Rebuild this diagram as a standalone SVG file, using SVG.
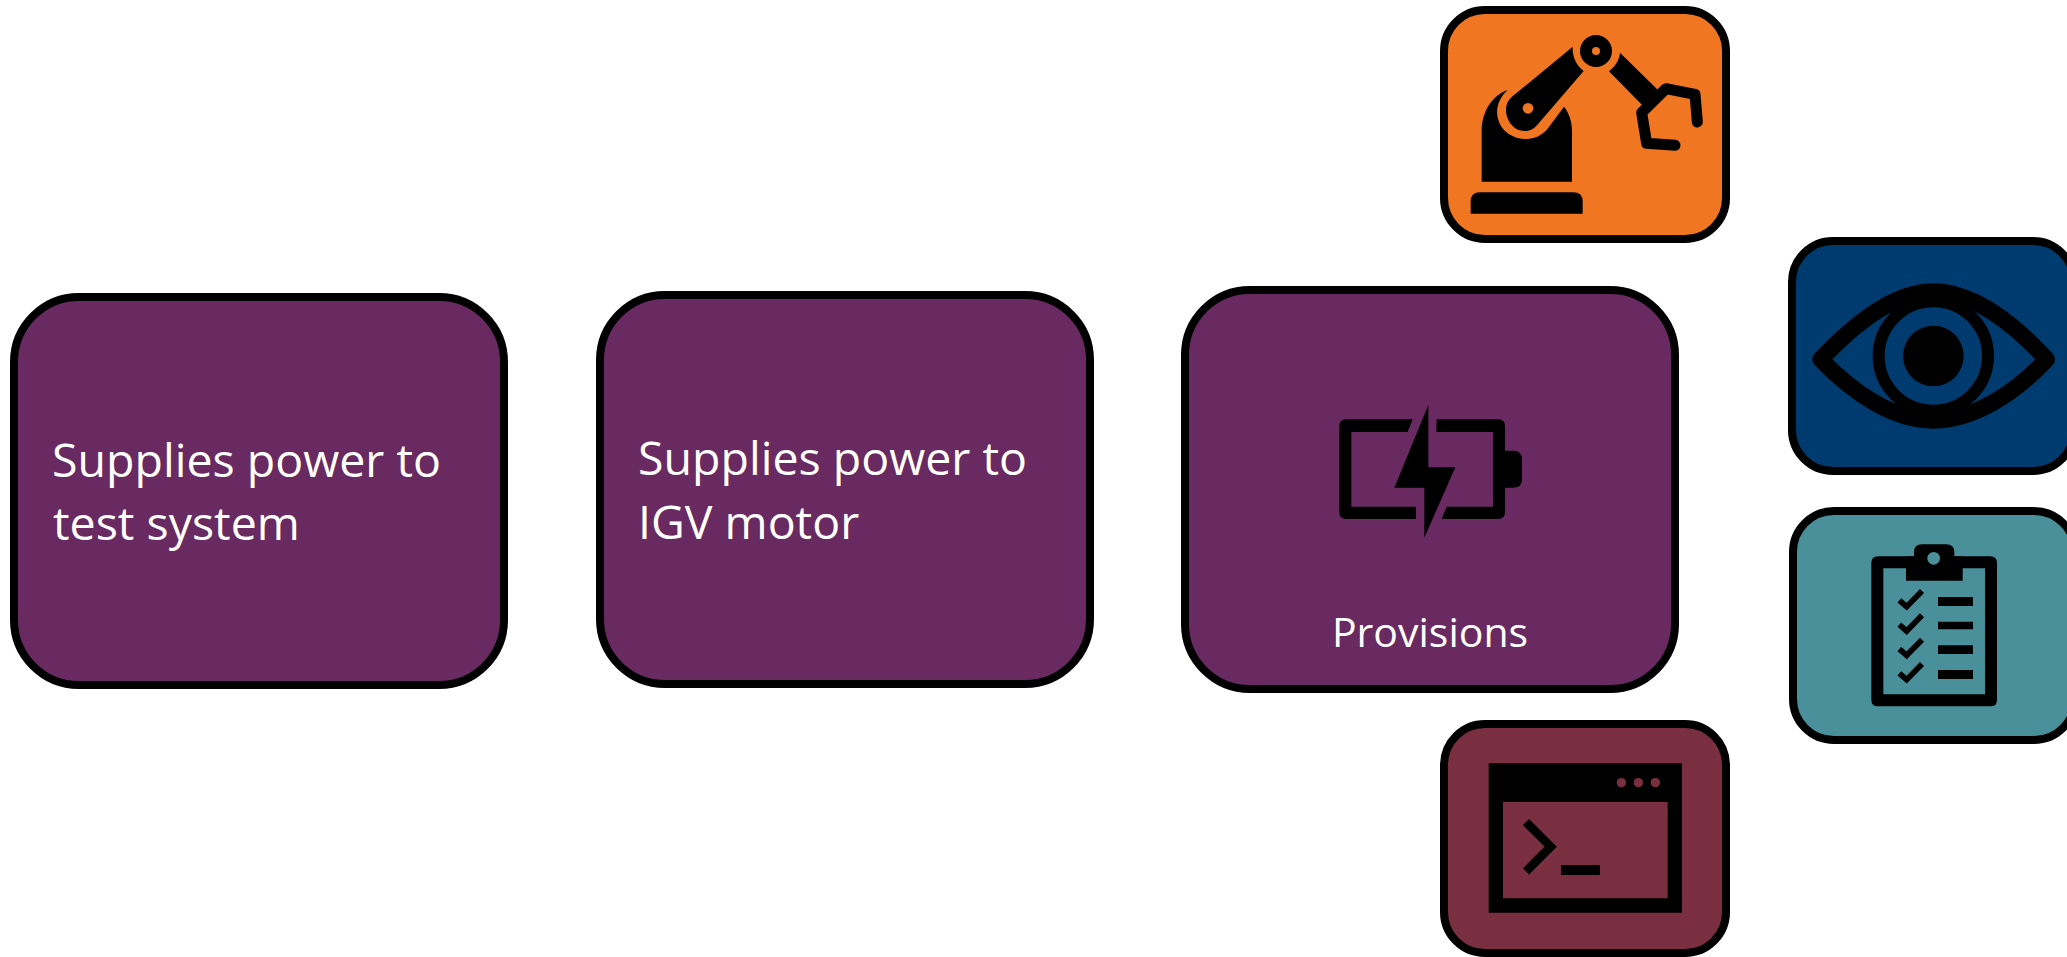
<svg xmlns="http://www.w3.org/2000/svg" width="2067" height="957" viewBox="0 0 2067 957">
<style>
.purple{fill:#682a60}.card{stroke:#000;stroke-width:8}
.lbl{font-family:"Open Sans","Noto Sans","Liberation Sans",sans-serif;font-size:46.5px;fill:#fff}
.lbl2{font-size:41px}
.ln{fill:none;stroke:#000}
</style>
<rect width="2067" height="957" fill="#fff"/>
<g id="connectors"></g>
<g id="node-test-system">
<rect class="card purple" x="14" y="297" width="490" height="388" rx="65"/>
<text class="lbl" x="52" y="477">Supplies power to</text>
<text class="lbl" x="53" y="540">test system</text>
</g>
<g id="node-igv-motor">
<rect class="card purple" x="600" y="295" width="490" height="389" rx="65"/>
<text class="lbl" x="638" y="475">Supplies power to</text>
<text class="lbl" x="638" y="539">IGV motor</text>
</g>
<g id="node-provisions">
<rect class="card purple" x="1185" y="290" width="490" height="399" rx="65"/>
<g transform="translate(1170 270) scale(.33333)">
<path d="M728 448H528Q508 448 508 468V727Q508 747 528 747H738V710H544V486H713Z"/>
<path d="M800 448H985Q1005 448 1005 468V727Q1005 747 985 747H815L830 710H969V486H799Z"/>
<path d="M1005 542H1030Q1056 542 1056 568V628Q1056 653 1030 653H1005Z"/>
<path d="M775 405V592H856L763 803V653H673Z"/>
</g>
<text class="lbl lbl2" x="1430" y="647" text-anchor="middle">Provisions</text>
</g>
<g id="node-robot">
<rect class="card" fill="#f07622" x="1444" y="10" width="282" height="229" rx="41"/>
<g transform="translate(1420 0) scale(.33333)">
<path d="M152 641V605Q152 577 180 577H460Q488 577 488 605V641Z"/>
<path d="M185 545V395C185 330 220 285 263 270C235 295 225 330 235 360C245 395 280 417 318 417C345 417 365 405 380 390L432 320C448 340 456 365 456 395V545Z"/>
<path d="M458 140C456 170 470 198 491 213L360 365C345 385 330 393 315 393C280 393 258 360 258 330C258 310 268 295 285 283Z"/>
<circle cx="324" cy="325" r="16" fill="#f07622"/>
<circle cx="528" cy="153" r="48"/>
<circle cx="528" cy="153" r="12" fill="#f07622"/>
<path d="M600 158L714 270L667 316L567 214C585 200 598 180 600 158Z"/>
<path class="ln" stroke-width="33" stroke-linecap="round" stroke-linejoin="round" d="M832 366L825 283L738 266L665 338L680 430L765 436"/>
</g>
</g>
<g id="node-monitor">
<rect class="card" fill="#003b6f" x="1792" y="241" width="282" height="230" rx="41"/>
<g transform="translate(1770 230) scale(.33333)">
<path class="ln" stroke-width="50" stroke-linejoin="round" d="M152 388C250 285 370 185 490 185C610 185 735 285 830 388C735 490 610 571 490 571C370 571 250 490 152 388Z"/>
<circle cx="490" cy="378" r="164" fill="#003b6f" stroke="#000" stroke-width="36"/>
<circle cx="490" cy="378" r="91"/>
</g>
</g>
<g id="node-checklist">
<rect class="card" fill="#49909a" x="1793" y="511" width="282" height="229" rx="41"/>
<g transform="translate(1770 495) scale(.33333)">
<path fill-rule="evenodd" d="M324 184H661Q681 184 681 204V614Q681 634 661 634H324Q304 634 304 614V204Q304 184 324 184ZM340 220V598H645V220Z"/>
<path d="M408 257V184H432V172Q432 148 456 148H529Q553 148 553 172V184H578V257Z"/>
<circle cx="491" cy="190" r="19" fill="#49909a"/>
<path class="ln" stroke-width="17" d="M388 316L410 335L456 288M388 389L410 408L456 361M388 462L410 481L456 434M388 535L410 554L456 507"/>
<path d="M504 306H609V333H504ZM504 380H609V403H504ZM504 451H609V477H504ZM504 525H609V552H504Z"/>
</g>
</g>
<g id="node-terminal">
<rect class="card" fill="#7a2f40" x="1444" y="724" width="282" height="229" rx="41"/>
<g transform="translate(1420 710) scale(.33333)">
<path fill-rule="evenodd" d="M206 160H786V608H206ZM249 276V565H743V276Z"/>
<circle cx="604" cy="218" r="14" fill="#7a2f40"/><circle cx="655" cy="218" r="14" fill="#7a2f40"/><circle cx="706" cy="218" r="14" fill="#7a2f40"/>
<path class="ln" stroke-width="26" d="M318 336L392 410L318 484"/>
<path d="M423 465H540V495H423Z"/>
</g>
</g>
</svg>
